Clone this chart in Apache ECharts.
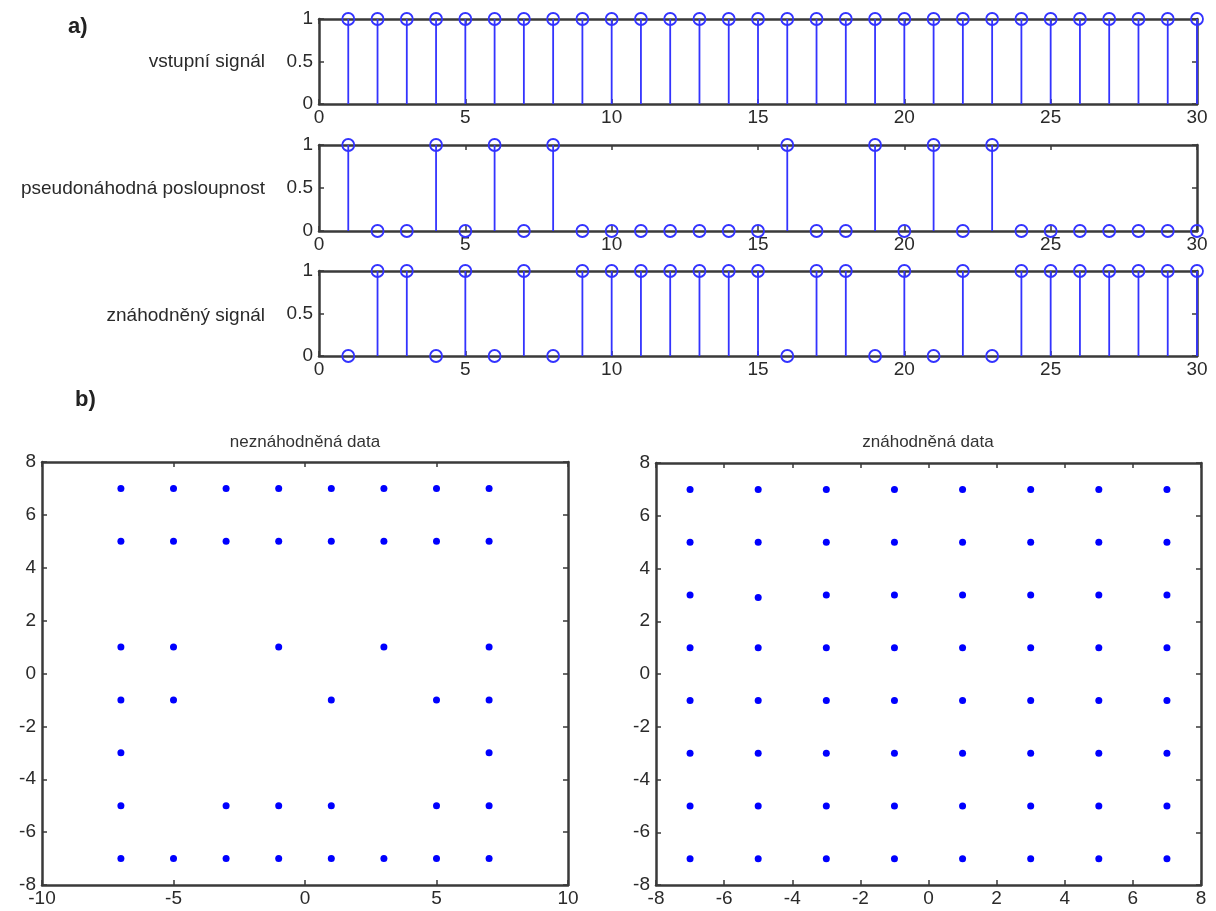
<!DOCTYPE html>
<html>
<head>
<meta charset="utf-8">
<script src="https://cdn.jsdelivr.net/npm/echarts@6/dist/echarts.min.js"></script>
<style>html,body{margin:0;padding:0;background:#fff}#c{width:1216px;height:911px}</style>
</head>
<body>
<div id="c"></div>
<script>
// ---- data ----
var sampleIndex = [1,2,3,4,5,6,7,8,9,10,11,12,13,14,15,16,17,18,19,20,21,22,23,24,25,26,27,28,29,30];
var inputSignal = [1,1,1,1,1,1,1,1,1,1,1,1,1,1,1,1,1,1,1,1,1,1,1,1,1,1,1,1,1,1];
var pseudoRandom = [1,0,0,1,0,1,0,1,0,0,0,0,0,0,0,1,0,0,1,0,1,0,1,0,0,0,0,0,0,0];
var randomizedSignal = [0,1,1,0,1,0,1,0,1,1,1,1,1,1,1,0,1,1,0,1,0,1,0,1,1,1,1,1,1,1];
var stemLabels = ['vstupní signál', 'pseudonáhodná posloupnost', 'znáhodněný signál'];
var scatterTitles = ['neznáhodněná data', 'znáhodněná data'];
var plainX = [-7,-5,-3,-1,1,3,5,7, -7,-5,-3,-1,1,3,5,7, -7,-5,-1,3,7, -7,-5,1,5,7, -7,7, -7,-3,-1,1,5,7, -7,-5,-3,-1,1,3,5,7];
var plainY = [7,7,7,7,7,7,7,7, 5,5,5,5,5,5,5,5, 1,1,1,1,1, -1,-1,-1,-1,-1, -3,-3, -5,-5,-5,-5,-5,-5, -7,-7,-7,-7,-7,-7,-7,-7];
var randX = [-7,-5,-3,-1,1,3,5,7, -7,-5,-3,-1,1,3,5,7, -7,-5,-3,-1,1,3,5,7, -7,-5,-3,-1,1,3,5,7, -7,-5,-3,-1,1,3,5,7, -7,-5,-3,-1,1,3,5,7, -7,-5,-3,-1,1,3,5,7, -7,-5,-3,-1,1,3,5,7];
var randY = [7,7,7,7,7,7,7,7, 5,5,5,5,5,5,5,5, 3,2.9,3,3,3,3,3,3, 1,1,1,1,1,1,1,1, -1,-1,-1,-1,-1,-1,-1,-1, -3,-3,-3,-3,-3,-3,-3,-3, -5,-5,-5,-5,-5,-5,-5,-5, -7,-7,-7,-7,-7,-7,-7,-7];

// ---- styling / layout ----
var FONT = 'Liberation Sans';
var AX = '#3a3a3a';
var BLUE = '#3333ff';
var chart = echarts.init(document.getElementById('c'), null, {renderer:'canvas'});

var grids = [
  {left:319, right:19, top:19, height:85},
  {left:319, right:19, top:145, height:86},
  {left:319, right:19, top:271, height:85},
  {left:42, right:648, top:462, height:423},
  {left:656, right:15, top:463, height:422}
];
var xRanges = [[0,30,5],[0,30,5],[0,30,5],[-10,10,5],[-8,8,2]];
var yRanges = [[0,1,0.5],[0,1,0.5],[0,1,0.5],[-8,8,2],[-8,8,2]];

var xAxes = [], yAxes = [];
grids.forEach(function(g, i){
  var xr = xRanges[i], yr = yRanges[i];
  var common = {type:'value', gridIndex:i, splitLine:{show:false},
    axisLine:{show:true, onZero:false, lineStyle:{color:AX, width:2.5}},
    axisTick:{show:true, inside:true, length:5, lineStyle:{color:AX, width:1.5}}};
  xAxes.push(Object.assign({}, common, {position:'bottom', min:xr[0], max:xr[1], interval:xr[2],
    axisLabel:{show:true, color:'#2a2a2a', fontFamily:FONT, fontSize:19, margin:4, showMinLabel:true, showMaxLabel:true}}));
  xAxes.push(Object.assign({}, common, {position:'top', min:xr[0], max:xr[1], interval:xr[2], axisLabel:{show:false}}));
  yAxes.push(Object.assign({}, common, {position:'left', min:yr[0], max:yr[1], interval:yr[2],
    axisLabel:{show:true, color:'#2a2a2a', fontFamily:FONT, fontSize:19, margin:6, showMinLabel:true, showMaxLabel:true}}));
  yAxes.push(Object.assign({}, common, {position:'right', min:yr[0], max:yr[1], interval:yr[2], axisLabel:{show:false}}));
});

function stemSeries(values, gi){
  var data = sampleIndex.map(function(n, k){ return [n, values[k]]; });
  return {
    type:'custom', xAxisIndex:gi*2, yAxisIndex:gi*2, data:data, z:5, clip:false,
    renderItem:function(params, api){
      var x = api.value(0), y = api.value(1);
      var p0 = api.coord([x, 0]), p1 = api.coord([x, y]);
      return {type:'group', children:[
        {type:'line', shape:{x1:p0[0], y1:p0[1], x2:p1[0], y2:p1[1]}, style:{stroke:BLUE, lineWidth:1.8}},
        {type:'circle', shape:{cx:p1[0], cy:p1[1], r:6}, style:{fill:'none', stroke:BLUE, lineWidth:1.8}}
      ]};
    }
  };
}
function scatterSeries(xs, ys, gi){
  return {type:'scatter', xAxisIndex:gi*2, yAxisIndex:gi*2, symbol:'circle', symbolSize:7,
    itemStyle:{color:'#0000ff', opacity:1}, z:5,
    data: xs.map(function(x, k){ return [x, ys[k]]; })};
}

var graphics = [
  {type:'text', left:68, top:16, style:{text:'a)', font:'bold 22px "Liberation Sans"', fill:'#222'}},
  {type:'text', left:75, top:389, style:{text:'b)', font:'bold 22px "Liberation Sans"', fill:'#222'}}
];
var labelY = [62, 189, 316];
stemLabels.forEach(function(t, i){
  graphics.push({type:'text', x:265, y:labelY[i], style:{text:t, font:'19px "Liberation Sans"', fill:'#2a2a2a', textAlign:'right', textVerticalAlign:'middle'}});
});
var titleX = [305, 928];
scatterTitles.forEach(function(t, i){
  graphics.push({type:'text', x:titleX[i], y:442, style:{text:t, font:'17px "Liberation Sans"', fill:'#333', textAlign:'center', textVerticalAlign:'middle'}});
});

chart.setOption({
  animation:false,
  backgroundColor:'#fff',
  grid:grids,
  xAxis:xAxes,
  yAxis:yAxes,
  graphic:graphics,
  series:[
    stemSeries(inputSignal, 0),
    stemSeries(pseudoRandom, 1),
    stemSeries(randomizedSignal, 2),
    scatterSeries(plainX, plainY, 3),
    scatterSeries(randX, randY, 4)
  ]
});
</script>
</body>
</html>
